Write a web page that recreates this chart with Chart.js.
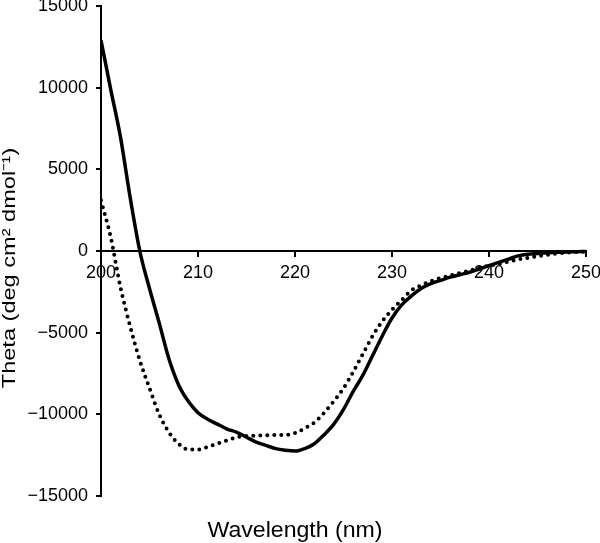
<!DOCTYPE html>
<html>
<head>
<meta charset="utf-8">
<script src="https://cdn.jsdelivr.net/npm/chart.js@4"></script>
<style>
html,body{margin:0;padding:0;background:#fff;}
#wrap{width:600px;height:543px;position:relative;}
</style>
</head>
<body>
<div id="wrap"><canvas id="c" width="600" height="543"></canvas></div>
<script>
const wavelengths = [200,201,202,203,204,205,206,207,208,209,210,211,212,213,214,215,216,217,218,219,220,221,222,223,224,225,226,227,228,229,230,231,232,233,234,235,236,237,238,239,240,241,242,243,244,245,246,247,248,249,250];
const solidSeries = [12900,9900,7000,3300,0,-2300,-4400,-6600,-8200,-9200,-9900,-10300,-10600,-10900,-11100,-11400,-11700,-11900,-12100,-12200,-12250,-12100,-11800,-11250,-10600,-9700,-8600,-7600,-6400,-5200,-4100,-3300,-2750,-2300,-2000,-1800,-1600,-1450,-1300,-1100,-900,-700,-500,-300,-200,-150,-100,-80,-60,-40,-30];
const dottedSeries = [3100,850,-2200,-4600,-6700,-8400,-10000,-11100,-11800,-12150,-12150,-12000,-11800,-11600,-11400,-11330,-11300,-11280,-11270,-11270,-11150,-10850,-10500,-9900,-9200,-8400,-7400,-6300,-5200,-4300,-3600,-3000,-2400,-2100,-1850,-1650,-1500,-1350,-1200,-1050,-900,-800,-650,-520,-420,-320,-230,-160,-100,-60,-40];
const xTicks = [200,210,220,230,240,250];
const yTicks = [-15000,-10000,-5000,0,5000,10000,15000];
const xTitle = 'Wavelength (nm)';
const yTitle = 'Theta (deg cm\u00B2 dmol\u207B\u00B9)';

const FONT = '"Liberation Sans", Arial, sans-serif';

const toPts = (arr) => wavelengths.map((w, i) => ({x: w, y: arr[i]}));

const titlesPlugin = {
  id: 'titlesPlugin',
  afterDraw(chart) {
    const ctx = chart.ctx;
    ctx.save();
    ctx.fillStyle = '#000';
    ctx.font = '22px ' + FONT;
    ctx.textAlign = 'center';
    ctx.textBaseline = 'alphabetic';
    ctx.translate(295, 537);
    ctx.scale(1.05, 1);
    ctx.fillText(xTitle, 0, 0);
    ctx.restore();

    ctx.save();
    ctx.fillStyle = '#000';
    ctx.font = '19px ' + FONT;
    ctx.textAlign = 'center';
    ctx.textBaseline = 'alphabetic';
    ctx.translate(15, 268);
    ctx.rotate(-Math.PI / 2);
    ctx.scale(1.24, 1);
    ctx.fillText(yTitle, 0, 0);
    ctx.restore();
  }
};

new Chart(document.getElementById('c'), {
  type: 'line',
  data: {
    datasets: [
      {
        data: toPts(solidSeries),
        borderColor: '#000',
        borderWidth: 3.5,
        pointRadius: 0,
        tension: 0.4,
        cubicInterpolationMode: 'monotone',
        fill: false
      },
      {
        data: toPts(dottedSeries),
        borderColor: '#000',
        borderWidth: 4,
        borderDash: [0, 7],
        borderCapStyle: 'round',
        pointRadius: 0,
        tension: 0.4,
        cubicInterpolationMode: 'monotone',
        fill: false
      }
    ]
  },
  options: {
    responsive: false,
    animation: false,
    layout: {padding: {top: 6, right: 14, left: 0, bottom: 47}},
    plugins: {legend: {display: false}, tooltip: {enabled: false}},
    scales: {
      x: {
        type: 'linear',
        position: {y: 0},
        min: 200, max: 250,
        afterBuildTicks(scale) { scale.ticks = xTicks.map(v => ({value: v})); },
        afterFit(scale) { scale.height = 0; scale.paddingLeft = 0; scale.paddingRight = 0; },
        grid: {display: true, drawOnChartArea: false, drawTicks: true, tickLength: 5, color: '#000', lineWidth: 2},
        border: {display: true, color: '#000', width: 2},
        ticks: {color: '#000', font: {family: FONT, size: 18}, padding: 6, maxRotation: 0, autoSkip: false,
          callback: (v) => String(v)}
      },
      y: {
        type: 'linear',
        min: -15000, max: 15000,
        afterBuildTicks(scale) { scale.ticks = yTicks.map(v => ({value: v})); },
        afterFit(scale) { scale.width = 101; scale.paddingTop = 0; scale.paddingBottom = 0; },
        grid: {display: true, drawOnChartArea: false, drawTicks: true, tickLength: 5, color: '#000', lineWidth: 2},
        border: {display: true, color: '#000', width: 2},
        ticks: {color: '#000', font: {family: FONT, size: 18}, padding: 8, autoSkip: false,
          callback: (v) => String(v).replace('-', '\u2212')}
      }
    }
  },
  plugins: [titlesPlugin]
});
</script>
</body>
</html>
